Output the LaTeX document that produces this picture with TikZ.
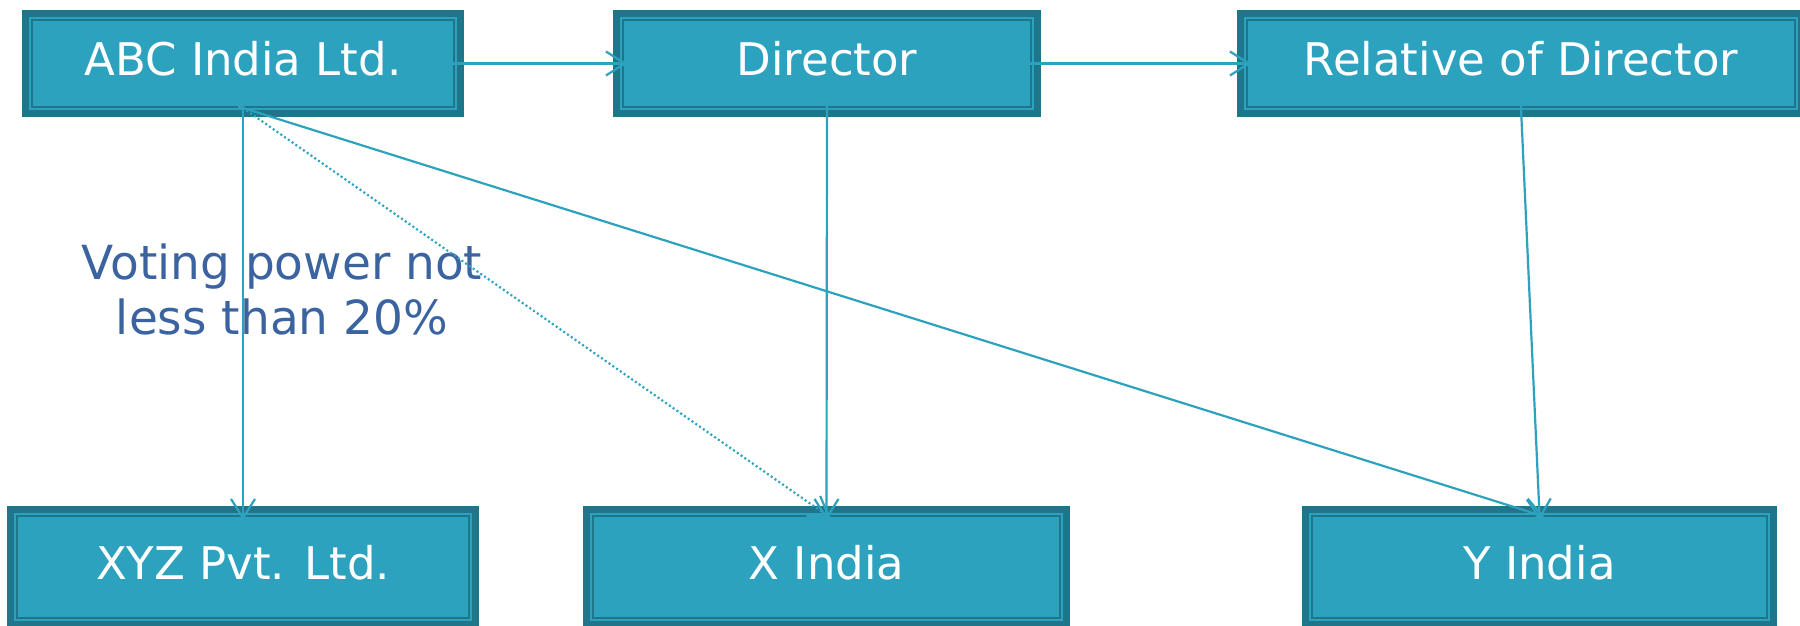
\documentclass[tikz,border=0pt]{standalone}
\usepackage{fontspec}
\setmainfont{DejaVu Sans}
\usetikzlibrary{arrows.meta}
\definecolor{boxfill}{RGB}{45,162,191}
\definecolor{boxdark}{RGB}{31,118,139}
\definecolor{linkblue}{RGB}{45,162,191}
\definecolor{notecolor}{RGB}{59,99,160}
\begin{document}
\begin{tikzpicture}[x=0.5pt,y=-0.5pt,
  orgbox/.style={fill=boxfill, draw=boxdark, line width=1pt, inner sep=0pt, text=white,
    font=\fontsize{22.5}{27}\selectfont, text height=16.5pt, text depth=4pt,
    preaction={draw=boxdark, line width=10pt},
    preaction={draw=boxfill, line width=3pt}},
  toprow/.style={minimum height=43.5pt},
  botrow/.style={minimum height=51pt},
  link/.style={draw=linkblue, line width=1.1pt, -{Straight Barb[length=9.5pt,width=12pt]},
    shorten <=-2.5pt, shorten >=-2.5pt},
  weak/.style={dash pattern=on 1pt off 1.3pt},
  note/.style={text=notecolor, align=center, font=\fontsize{23.5}{27.5}\selectfont}]
\useasboundingbox (0,0) rectangle (1800,626);
\clip (0,0) rectangle (1800,626);

% top row
\node[orgbox, toprow, minimum width=211pt] (abc) at (243,63.5) {ABC India Ltd.};
\node[orgbox, toprow, minimum width=204pt] (dir) at (827,63.5) {Director};
\node[orgbox, toprow, minimum width=274pt] (rel) at (1521,63.5) {Relative of Director};

% bottom row
\node[orgbox, botrow, minimum width=226pt] (xyz) at (243,567) {XYZ Pvt. Ltd.};
\node[orgbox, botrow, minimum width=233.5pt] (xin) at (826.5,567) {X India};
\node[orgbox, botrow, minimum width=227.5pt] (yin) at (1539.5,567) {Y India};

% label
\node[note] (vote) at (282,289) {Voting power not\\less than 20\%};

% connectors
\draw[link] (abc.east) -- (dir.west);
\draw[link] (dir.east) -- (rel.west);
\draw[link] (abc.south) -- (xyz.north);
\draw[link, weak] (abc.south) -- (xin.north);
\draw[link] (abc.south) -- (yin.north);
\draw[link] (dir.south) -- (xin.north);
\draw[link] (rel.south) -- (yin.north);
\end{tikzpicture}
\end{document}
